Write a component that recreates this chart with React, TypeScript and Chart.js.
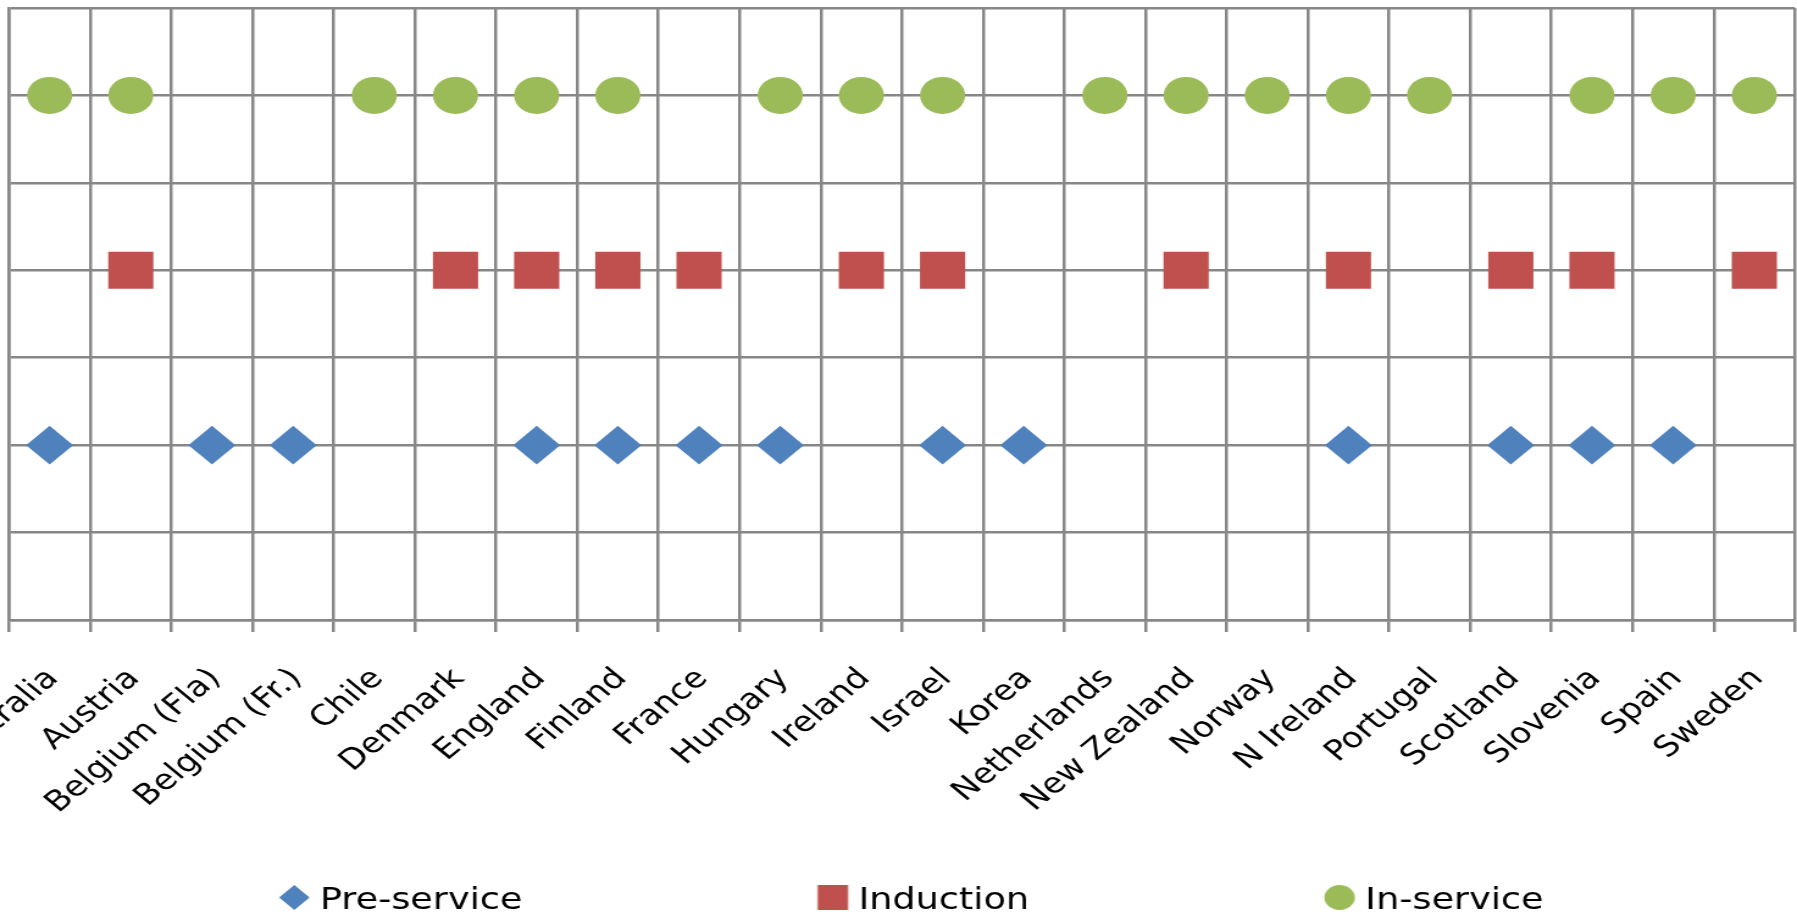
import React, { useEffect, useRef } from 'react';
import { Chart, registerables } from 'chart.js';

Chart.register(...registerables);

// ---------- data ----------
const countries = [
  'Australia', 'Austria', 'Belgium (Fla)', 'Belgium (Fr.)', 'Chile', 'Denmark',
  'England', 'Finland', 'France', 'Hungary', 'Ireland', 'Israel', 'Korea',
  'Netherlands', 'New Zealand', 'Norway', 'N Ireland', 'Portugal', 'Scotland',
  'Slovenia', 'Spain', 'Sweden',
];
const seriesNames = ['Pre-service', 'Induction', 'In-service'];
const preService = [1, null, 1, 1, null, null, 1, 1, 1, 1, null, 1, 1, null, null, null, 1, null, 1, 1, 1, null];
const induction = [null, 2, null, null, null, 2, 2, 2, 2, null, 2, 2, null, null, 2, null, 2, null, 2, 2, null, 2];
const inService = [3, 3, null, null, 3, 3, 3, 3, null, 3, 3, 3, null, 3, 3, 3, 3, 3, null, 3, 3, 3];
const yMin = 0;
const yMax = 3.5;
const yStep = 0.5;

// ---------- styling / layout constants ----------
const PAGE_W = 1797;
const PAGE_H = 918;
const STRETCH = 1.22;
const CANVAS_W = Math.round(PAGE_W / STRETCH);
const GRID = '#878787';
const BLUE = '#4F81BD';
const RED = '#C0504D';
const GREEN = '#9BBB59';
const LEGEND_PAD = 10;
const LEGEND_BOX = 250.5;
const LEFT_NEG = 13.3;
const PLOT_LEFT = 7.4;
const PLOT_TOP = 8;
const PLOT_BOTTOM = 620;
const BOTTOM_PAD = -8;
const LEGEND_FONT = 30;
const TICK_FONT = 28.5;
const LEGEND_H = LEGEND_FONT + LEGEND_PAD + 10;
const X_AXIS_H = PAGE_H - BOTTOM_PAD - LEGEND_H - PLOT_BOTTOM;

function legendMarker(shape: string, color: string) {
  const c = document.createElement('canvas');
  c.width = 280;
  c.height = 40;
  const g = c.getContext('2d') as CanvasRenderingContext2D;
  const cx = 140 + LEGEND_BOX / 2 - 6;
  const cy = 20 - 3.5;
  g.fillStyle = color;
  g.beginPath();
  if (shape === 'diamond') {
    g.moveTo(cx - 12.5, cy);
    g.lineTo(cx, cy - 12.5);
    g.lineTo(cx + 12.5, cy);
    g.lineTo(cx, cy + 12.5);
    g.closePath();
  } else if (shape === 'square') {
    g.rect(cx - 12.5, cy - 12.5, 25, 25);
  } else {
    g.arc(cx, cy, 12.5, 0, Math.PI * 2);
  }
  g.fill();
  return c;
}

export default function App() {
  const ref = useRef<HTMLCanvasElement | null>(null);

  useEffect(() => {
    if (!ref.current) return;
    const legendImgs = [
      legendMarker('diamond', BLUE),
      legendMarker('square', RED),
      legendMarker('circle', GREEN),
    ];
    Chart.defaults.font.family = "'DejaVu Sans', sans-serif";

    const chart = new Chart(ref.current, {
      type: 'line',
      data: {
        labels: countries,
        datasets: [
          {
            label: seriesNames[0],
            data: preService,
            showLine: false,
            pointStyle: 'rectRot',
            pointRadius: 19.3,
            pointHoverRadius: 19.3,
            pointBorderWidth: 0,
            pointBackgroundColor: BLUE,
            backgroundColor: BLUE,
            borderColor: BLUE,
          },
          {
            label: seriesNames[1],
            data: induction,
            showLine: false,
            pointStyle: 'rect',
            pointRadius: 26.2,
            pointHoverRadius: 26.2,
            pointBorderWidth: 0,
            pointBackgroundColor: RED,
            backgroundColor: RED,
            borderColor: RED,
          },
          {
            label: seriesNames[2],
            data: inService,
            showLine: false,
            pointStyle: 'circle',
            pointRadius: 18.5,
            pointHoverRadius: 18.5,
            pointBorderWidth: 0,
            pointBackgroundColor: GREEN,
            backgroundColor: GREEN,
            borderColor: GREEN,
          },
        ],
      },
      options: {
        responsive: false,
        animation: false,
        devicePixelRatio: 1,
        events: [],
        layout: {
          autoPadding: false,
          padding: { left: -LEFT_NEG, right: 1.7, top: PLOT_TOP, bottom: BOTTOM_PAD },
        },
        plugins: {
          tooltip: { enabled: false },
          legend: {
            display: true,
            position: 'bottom',
            align: 'start',
            labels: {
              usePointStyle: true,
              pointStyleWidth: LEGEND_BOX,
              padding: LEGEND_PAD,
              color: '#000000',
              font: { size: LEGEND_FONT, family: "'DejaVu Sans', sans-serif" },
              generateLabels: (c: any) => {
                const items = Chart.defaults.plugins.legend.labels.generateLabels(c);
                return items.map((it: any, i: number) => ({ ...it, pointStyle: legendImgs[i] }));
              },
            },
          },
        },
        scales: {
          x: {
            type: 'category',
            offset: true,
            grid: {
              display: true,
              offset: true,
              color: GRID,
              lineWidth: 2.5,
              drawTicks: true,
              tickLength: 12,
              tickColor: GRID,
              tickWidth: 2.5,
            },
            border: { display: true, color: GRID, width: 2.5 },
            ticks: {
              autoSkip: false,
              minRotation: 45,
              maxRotation: 45,
              padding: 30,
              labelOffset: 3,
              color: '#000000',
              font: { size: TICK_FONT, family: "'DejaVu Sans', sans-serif" },
            },
            afterFit: (s: any) => {
              s.height = X_AXIS_H;
              s.paddingLeft = 0;
              s.paddingRight = 0;
            },
          },
          y: {
            type: 'linear',
            position: 'left',
            min: yMin,
            max: yMax,
            ticks: { display: false, stepSize: yStep },
            grid: { display: true, color: GRID, lineWidth: 2.5, drawTicks: false },
            border: { display: true, color: GRID, width: 2.5 },
            afterFit: (s: any) => {
              s.width = LEFT_NEG + PLOT_LEFT;
              s.paddingTop = 0;
              s.paddingBottom = 0;
            },
          },
        },
      } as any,
    });
    return () => chart.destroy();
  }, []);

  return (
    <canvas
      ref={ref}
      width={CANVAS_W}
      height={PAGE_H}
      style={{
        position: 'absolute',
        left: 0,
        top: 0,
        width: PAGE_W + 'px',
        height: PAGE_H + 'px',
        display: 'block',
      }}
    />
  );
}
